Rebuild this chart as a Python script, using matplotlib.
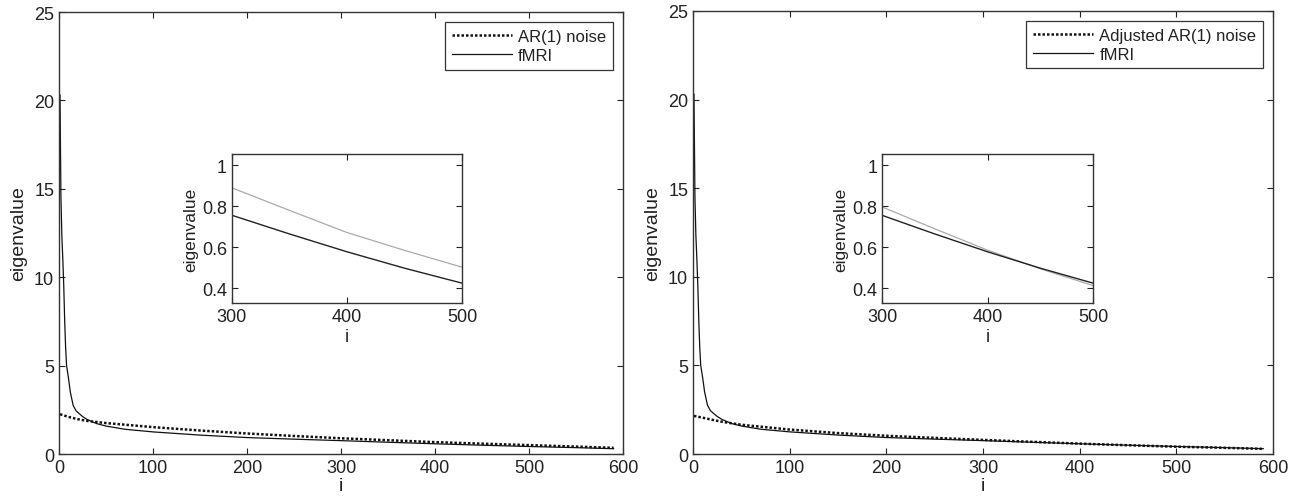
import numpy as np
import matplotlib
matplotlib.use("Agg")
import matplotlib.pyplot as plt

plt.rcParams['font.family'] = ['Liberation Sans', 'DejaVu Sans']

# eigenvalue index and values
i_fmri = [1, 2, 3, 4, 5, 6, 7, 8, 10, 12, 15, 18, 20, 25, 30, 40, 50, 70, 100,
          150, 200, 250, 300, 350, 400, 450, 500, 550, 590]
fmri = [20.3, 14.5, 12.3, 11.0, 9.5, 7.5, 6.0, 5.0, 4.3, 3.5, 2.75, 2.45, 2.35,
        2.12, 1.95, 1.72, 1.58, 1.40, 1.25, 1.07, 0.93, 0.84, 0.756, 0.665,
        0.578, 0.498, 0.425, 0.36, 0.30]

i_noise = [1, 10, 20, 30, 50, 100, 150, 200, 250, 300, 350, 400, 450, 500, 550, 590]
ar_noise = [2.25, 2.10, 1.97, 1.87, 1.75, 1.52, 1.33, 1.16, 1.02, 0.89, 0.78,
            0.672, 0.585, 0.503, 0.42, 0.35]
adj_noise = [2.15, 2.05, 1.93, 1.82, 1.65, 1.38, 1.18, 1.03, 0.91, 0.797, 0.69,
             0.586, 0.495, 0.413, 0.35, 0.29]

TXT = '#222222'


def style_axes(ax, fs):
    ax.tick_params(direction='in', top=True, right=True, labelsize=fs,
                   colors=TXT, length=4.5)
    for s in ax.spines.values():
        s.set_color('#333333')
        s.set_linewidth(1.0)


def draw_panel(main_pos, inset_pos, noise, label):
    ax = fig.add_axes(main_pos)
    ax.plot(i_noise, noise, color='#111111', linestyle=(0, (1, 0.8)), lw=1.8,
            label=label)
    ax.plot(i_fmri, fmri, color='#111111', lw=0.9, label='fMRI')
    ax.set_xlim(0, 600)
    ax.set_ylim(0, 25)
    ax.set_xticks(np.arange(0, 601, 100))
    ax.set_yticks(np.arange(0, 26, 5))
    ax.set_xlabel('i', fontsize=14, color=TXT, labelpad=1)
    ax.set_ylabel('eigenvalue', fontsize=14, color=TXT, labelpad=5)
    style_axes(ax, 13)
    leg = ax.legend(loc='upper right', fontsize=12, handlelength=3.6,
                    fancybox=False, framealpha=1, borderaxespad=0.6,
                    borderpad=0.4, labelspacing=0.25, handletextpad=0.4)
    leg.get_frame().set_edgecolor('#333333')
    leg.get_frame().set_linewidth(0.9)
    for t in leg.get_texts():
        t.set_color(TXT)

    ins = fig.add_axes(inset_pos)
    ins.plot(i_noise, noise, color='#aaaaaa', lw=0.9)
    ins.plot(i_fmri, fmri, color='#222222', lw=1.0)
    ins.set_xlim(300, 500)
    ins.set_ylim(0.328, 1.055)
    ins.set_xticks([300, 400, 500])
    ins.set_yticks([0.4, 0.6, 0.8, 1.0])
    ins.set_yticklabels(['0.4', '0.6', '0.8', '1'])
    ins.set_xlabel('i', fontsize=13, color=TXT, labelpad=2)
    ins.set_ylabel('eigenvalue', fontsize=12.5, color=TXT, labelpad=3)
    style_axes(ins, 13)


fig = plt.figure(figsize=(12.98, 5.02), dpi=100)
draw_panel([0.0455, 0.0936, 0.4345, 0.8805], [0.1787, 0.3944, 0.1772, 0.2968],
           ar_noise, 'AR(1) noise')
draw_panel([0.5339, 0.0936, 0.4468, 0.8825], [0.6795, 0.3944, 0.1626, 0.2968],
           adj_noise, 'Adjusted AR(1) noise')

fig.savefig('out.png', dpi=100)
